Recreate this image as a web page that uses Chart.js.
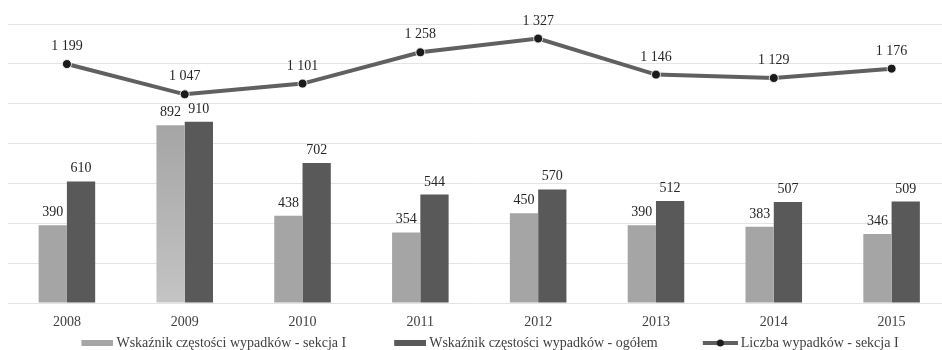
<!DOCTYPE html>
<html>
<head>
<meta charset="utf-8">
<script src="https://cdn.jsdelivr.net/npm/chart.js@4/dist/chart.umd.min.js"></script>
<style>
  html, body { margin: 0; padding: 0; background: #ffffff; }
  #wrap { width: 942px; height: 350px; overflow: hidden; position: relative; }
  #chart { position: absolute; left: -24px; top: 0; }
</style>
</head>
<body>
<div id="wrap"><canvas id="chart" width="980" height="360"></canvas></div>
<script>
// Accident frequency rates and accident counts, 2008–2015
const years = ['2008', '2009', '2010', '2011', '2012', '2013', '2014', '2015'];
const rateSection = [390, 892, 438, 354, 450, 390, 383, 346];
const rateTotal = [610, 910, 702, 544, 570, 512, 507, 509];
const accidentsSection = [1199, 1047, 1101, 1258, 1327, 1146, 1129, 1176];
const seriesNames = [
  'Wskaźnik częstości wypadków - sekcja I',
  'Wskaźnik częstości wypadków - ogółem',
  'Liczba wypadków - sekcja I'
];
const yMin = 0;
const yMax = 1400;
const yStep = 200;

const FONT = "'Liberation Serif', 'Times New Roman', serif";
const LIGHT = '#a5a5a5';
const LIGHT_BASE = '#c4c4c4';
const DARK = '#595959';
const LINE = '#606060';
const DOT = '#1b1b1b';
const TEXT = '#404040';

// "1199" -> "1 199"
function fmt(n) {
  return String(n).replace(/\B(?=(\d{3})+(?!\d))/g, ' ');
}

// Legend symbols: blank space on the left, symbol flush right next to the text
const BOX = 76;
const TEXT_GAP = 3;
function legendIcon(symbolWidth, draw) {
  const c = document.createElement('canvas');
  c.width = BOX + 14 - 2 * TEXT_GAP;
  c.height = 12;
  const g = c.getContext('2d');
  draw(g, c.width - symbolWidth, symbolWidth, c.height / 2);
  return c;
}
const icons = [
  legendIcon(32, (g, x, w, cy) => { g.fillStyle = LIGHT; g.fillRect(x, cy - 3, w, 6); }),
  legendIcon(32, (g, x, w, cy) => { g.fillStyle = DARK; g.fillRect(x, cy - 3, w, 6); }),
  legendIcon(35, (g, x, w, cy) => {
    g.strokeStyle = LINE; g.lineWidth = 4;
    g.beginPath(); g.moveTo(x, cy); g.lineTo(x + w, cy); g.stroke();
    g.fillStyle = DOT; g.beginPath(); g.arc(x + w / 2, cy, 3.5, 0, Math.PI * 2); g.fill();
  })
];

// Value labels above bars and line points
const valueLabels = {
  id: 'valueLabels',
  afterDatasetsDraw(chart) {
    const ctx = chart.ctx;
    ctx.save();
    ctx.font = '14px ' + FONT;
    ctx.fillStyle = '#262626';
    ctx.textAlign = 'center';
    ctx.textBaseline = 'alphabetic';
    chart.data.datasets.forEach((ds, i) => {
      const meta = chart.getDatasetMeta(i);
      const gap = ds.type === 'line' ? 14 : 9;
      meta.data.forEach((el, j) => {
        ctx.fillText(fmt(ds.data[j]), el.x, el.y - gap);
      });
    });
    ctx.restore();
  }
};

// The 2009 section bar fades lighter towards its base
function sectionBarColor(c) {
  if (c.dataIndex !== 1) return LIGHT;
  const chart = c.chart;
  if (!chart.chartArea) return LIGHT;
  const y = chart.scales.y;
  const grad = chart.ctx.createLinearGradient(0, y.getPixelForValue(c.raw), 0, y.getPixelForValue(0));
  grad.addColorStop(0, LIGHT);
  grad.addColorStop(1, LIGHT_BASE);
  return grad;
}

new Chart(document.getElementById('chart'), {
  data: {
    labels: years,
    datasets: [
      {
        type: 'bar',
        label: seriesNames[0],
        data: rateSection,
        backgroundColor: sectionBarColor,
        categoryPercentage: 0.48,
        barPercentage: 1.0,
        order: 1
      },
      {
        type: 'bar',
        label: seriesNames[1],
        data: rateTotal,
        backgroundColor: DARK,
        categoryPercentage: 0.48,
        barPercentage: 1.0,
        order: 1
      },
      {
        type: 'line',
        label: seriesNames[2],
        data: accidentsSection,
        borderColor: LINE,
        borderWidth: 4,
        tension: 0,
        pointRadius: 4.5,
        pointBackgroundColor: DOT,
        pointBorderColor: 'rgba(255,255,255,0.85)',
        pointBorderWidth: 1,
        order: 0
      }
    ]
  },
  options: {
    responsive: false,
    animation: false,
    devicePixelRatio: 1,
    layout: { padding: { top: 24, left: 0, right: 0, bottom: 0 } },
    plugins: {
      tooltip: { enabled: false },
      legend: {
        position: 'bottom',
        align: 'center',
        labels: {
          usePointStyle: true,
          pointStyleWidth: BOX,
          padding: 0,
          color: TEXT,
          font: { family: FONT, size: 14 },
          generateLabels: (chart) => chart.data.datasets.map((ds, i) => ({
            text: ds.label,
            pointStyle: icons[i],
            fillStyle: 'rgba(0,0,0,0)',
            strokeStyle: 'rgba(0,0,0,0)',
            lineWidth: 0,
            hidden: false,
            datasetIndex: i,
            fontColor: TEXT
          }))
        }
      }
    },
    scales: {
      x: {
        grid: { display: false },
        border: { display: false },
        ticks: {
          color: TEXT,
          font: { family: FONT, size: 14 },
          padding: 3,
          maxRotation: 0,
          autoSkip: false
        },
        afterFit: (s) => { s.height = 33; }
      },
      y: {
        min: yMin,
        max: yMax,
        ticks: { stepSize: yStep, display: false },
        grid: { color: '#e4e4e4', lineWidth: 1, drawTicks: false },
        border: { display: false },
        afterFit: (s) => { s.width = 32; }
      }
    }
  },
  plugins: [valueLabels]
});
</script>
</body>
</html>
